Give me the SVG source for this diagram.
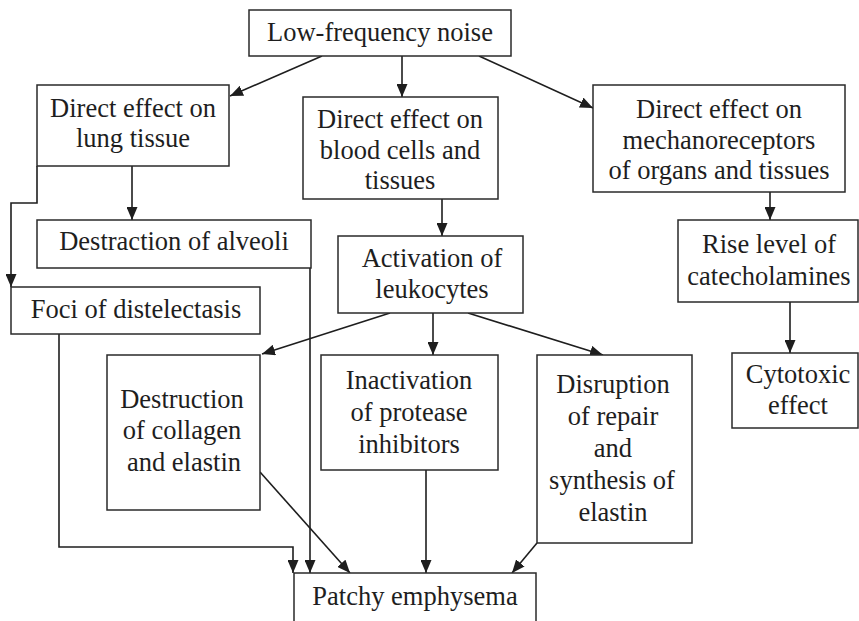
<svg xmlns="http://www.w3.org/2000/svg" width="859" height="621" viewBox="0 0 859 621">
<style>
rect{fill:#fff;stroke:#2a2a2a;stroke-width:1.5}
text{font-family:'Liberation Serif','Times New Roman',serif;font-size:26.5px;fill:#1e1e1e;text-anchor:middle}
.c{fill:none;stroke:#1e1e1e;stroke-width:1.6}
</style>
<defs>
<marker id="a" markerUnits="userSpaceOnUse" markerWidth="13" markerHeight="11" refX="13" refY="5.5" orient="auto">
<path d="M0,0 L13,5.5 L0,11 Z" fill="#1e1e1e"/>
</marker>
</defs>
<g id="connectors">
<path class="c" d="M322,56 L230,96" marker-end="url(#a)"/>
<path class="c" d="M402,56 L402,97" marker-end="url(#a)"/>
<path class="c" d="M479,56 L593,108" marker-end="url(#a)"/>
<path class="c" d="M132,166 L132,220" marker-end="url(#a)"/>
<path class="c" d="M37,166 L37,203 L11,203 L11,287" marker-end="url(#a)"/>
<path class="c" d="M442,199 L442,236" marker-end="url(#a)"/>
<path class="c" d="M770,192 L770,220" marker-end="url(#a)"/>
<path class="c" d="M790,302 L790,353" marker-end="url(#a)"/>
<path class="c" d="M390,313 L262,354" marker-end="url(#a)"/>
<path class="c" d="M433,313 L433,355" marker-end="url(#a)"/>
<path class="c" d="M468,313 L603,355" marker-end="url(#a)"/>
<path class="c" d="M310,268 L310,573" marker-end="url(#a)"/>
<path class="c" d="M59,334 L59,547 L293,547 L293,573" marker-end="url(#a)"/>
<path class="c" d="M260,472 L350,573" marker-end="url(#a)"/>
<path class="c" d="M426,470 L426,573" marker-end="url(#a)"/>
<path class="c" d="M537,543 L512,573" marker-end="url(#a)"/>
</g>
<g id="noise"><rect x="249" y="10" width="262" height="46"/><text x="380" y="41">Low-frequency noise</text></g>
<g id="lung"><rect x="37" y="85" width="192" height="81"/><text x="133" y="117">Direct effect on</text><text x="133" y="147">lung tissue</text></g>
<g id="blood"><rect x="303" y="97" width="195" height="102"/><text x="400" y="128">Direct effect on</text><text x="400" y="159">blood cells and</text><text x="400" y="189">tissues</text></g>
<g id="mechano"><rect x="593" y="85" width="252" height="107"/><text x="719" y="118">Direct effect on</text><text x="719" y="149">mechanoreceptors</text><text x="719" y="179">of organs and tissues</text></g>
<g id="alveoli"><rect x="37" y="220" width="274" height="48"/><text x="174" y="250">Destraction of alveoli</text></g>
<g id="foci"><rect x="11" y="287" width="249" height="47"/><text x="136" y="318">Foci of distelectasis</text></g>
<g id="leuko"><rect x="338" y="236" width="185" height="77"/><text x="432" y="267">Activation of</text><text x="432" y="298">leukocytes</text></g>
<g id="catechol"><rect x="678" y="220" width="180" height="82"/><text x="769" y="253">Rise level of</text><text x="769" y="285">catecholamines</text></g>
<g id="cytotoxic"><rect x="732" y="353" width="126" height="75"/><text x="798" y="383">Cytotoxic</text><text x="798" y="414">effect</text></g>
<g id="collagen"><rect x="107" y="355" width="153" height="155"/><text x="182" y="408">Destruction</text><text x="182" y="439">of collagen</text><text x="184" y="471">and elastin</text></g>
<g id="protease"><rect x="321" y="355" width="177" height="115"/><text x="409" y="389">Inactivation</text><text x="409" y="421">of protease</text><text x="409" y="453">inhibitors</text></g>
<g id="repair"><rect x="537" y="355" width="155" height="188"/><text x="613" y="393">Disruption</text><text x="613" y="425">of repair</text><text x="613" y="457">and</text><text x="612" y="489">synthesis of</text><text x="613" y="521">elastin</text></g>
<g id="emphysema"><rect x="294" y="573" width="242" height="70"/><text x="415" y="605">Patchy emphysema</text></g>
</svg>
